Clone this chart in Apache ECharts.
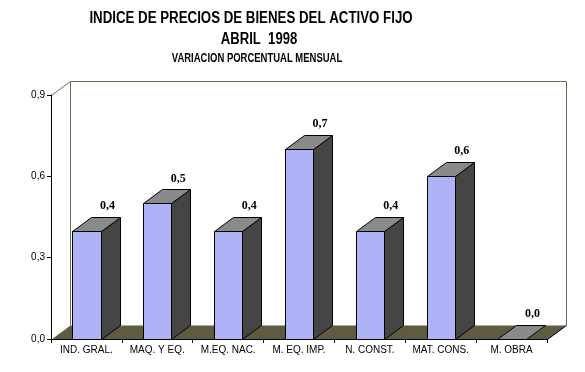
<!DOCTYPE html>
<html><head><meta charset="utf-8">
<script src="https://cdn.jsdelivr.net/npm/echarts@6/dist/echarts.min.js"></script>
<style>html,body{margin:0;padding:0;background:#fff}#c{width:585px;height:372px}</style>
</head><body><div id="c"></div>
<script>
const categories = ['IND. GRAL.', 'MAQ. Y EQ.', 'M.EQ. NAC.', 'M. EQ. IMP.', 'N. CONST.', 'MAT. CONS.', 'M. OBRA'];
const values = [0.4, 0.5, 0.4, 0.7, 0.4, 0.6, 0.0];
const valueLabels = ['0,4', '0,5', '0,4', '0,7', '0,4', '0,6', '0,0'];
const yTickLabels = ['0,0', '0,3', '0,6', '0,9'];
const titleLines = ['INDICE DE PRECIOS DE BIENES DEL ACTIVO FIJO', 'ABRIL  1998', 'VARIACION PORCENTUAL MENSUAL'];

const frontFill = '#aeb2f6';
const sideFill = '#454545';
const topFill = '#8a8a8a';
const DX = 19, DY = -14;
const px = v => Math.round(v) + 0.5;

function renderFrame(params, api) {
  const cs = params.coordSys;
  const x0 = px(cs.x), x1 = px(cs.x + cs.width), y0 = px(cs.y + cs.height), yt = px(cs.y);
  const olive = '#6b6b47';
  return { type: 'group', children: [
    { type: 'polygon', shape: { points: [[x0, y0], [x1, y0], [x1 + DX, y0 + DY], [x0 + DX, y0 + DY]] }, style: { fill: '#5f5b40', stroke: null } },
    { type: 'polyline', shape: { points: [[x0 + DX, y0 + DY], [x0 + DX, yt + DY], [x1 + DX, yt + DY], [x1 + DX, y0 + DY]] }, style: { stroke: olive, lineWidth: 1, fill: null } },
    { type: 'line', shape: { x1: x0, y1: yt, x2: x0 + DX, y2: yt + DY }, style: { stroke: olive, lineWidth: 1 } },
    { type: 'line', shape: { x1: x1, y1: y0, x2: x1 + DX, y2: y0 + DY }, style: { stroke: '#000', lineWidth: 1 } }
  ] };
}

function renderBar(params, api) {
  const i = api.value(0), v = api.value(1);
  const base = api.coord([i, 0]), top = api.coord([i, v]);
  const w = api.size([1, 0])[0] * 0.4;
  const xl = px(base[0] - w / 2), xr = px(base[0] + w / 2);
  const yb = px(base[1]), yt = px(top[1]);
  const st = { stroke: '#000', lineWidth: 1 };
  const children = [];
  if (yb - yt > 0.5) {
    children.push({ type: 'polygon', shape: { points: [[xl, yt], [xr, yt], [xr, yb], [xl, yb]] }, style: Object.assign({ fill: frontFill }, st) });
    children.push({ type: 'polygon', shape: { points: [[xr, yt], [xr + DX, yt + DY], [xr + DX, yb + DY], [xr, yb]] }, style: Object.assign({ fill: sideFill }, st) });
  }
  children.push({ type: 'polygon', shape: { points: [[xl, yt], [xl + DX, yt + DY], [xr + DX, yt + DY], [xr, yt]] }, style: Object.assign({ fill: topFill }, st) });
  children.push({ type: 'text', style: { text: valueLabels[params.dataIndex], x: base[0] + 21, y: top[1] - 25, align: 'center', verticalAlign: 'middle', font: 'bold 12px "Liberation Serif", serif', fill: '#000' } });
  return { type: 'group', children };
}

const chart = echarts.init(document.getElementById('c'), null, { renderer: 'canvas' });
chart.setOption({
  animation: false,
  backgroundColor: '#fff',
  graphic: [
    { type: 'text', x: 251, y: 19, scaleX: 0.83, style: { text: titleLines[0], x: 0, y: 0, align: 'center', verticalAlign: 'middle', font: 'bold 16px "Liberation Sans", Arial, sans-serif', fill: '#000' } },
    { type: 'text', x: 259, y: 40, scaleX: 0.82, style: { text: titleLines[1], x: 0, y: 0, align: 'center', verticalAlign: 'middle', font: 'bold 16px "Liberation Sans", Arial, sans-serif', fill: '#000' } },
    { type: 'text', x: 257, y: 59, scaleX: 0.79, style: { text: titleLines[2], x: 0, y: 0, align: 'center', verticalAlign: 'middle', font: 'bold 12px "Liberation Sans", Arial, sans-serif', fill: '#000' } }
  ],
  grid: { left: 51, right: 38, top: 95, bottom: 33, containLabel: false },
  xAxis: {
    type: 'category', data: categories, z: 10,
    axisLine: { lineStyle: { color: '#000', width: 1 } },
    axisTick: { show: true, length: 4, lineStyle: { color: '#000' } },
    axisLabel: { color: '#000', fontSize: 10, fontFamily: '"Liberation Sans", Arial, sans-serif', margin: 6, interval: 0 },
    splitLine: { show: false }
  },
  yAxis: {
    type: 'value', min: 0, max: 0.9, interval: 0.3, z: 10,
    axisLine: { show: true, lineStyle: { color: '#000', width: 1 } },
    axisTick: { show: true, length: 4, lineStyle: { color: '#000' } },
    axisLabel: { color: '#000', fontSize: 10, fontFamily: '"Liberation Sans", Arial, sans-serif', margin: 6, formatter: v => yTickLabels[Math.round(v / 0.3)] },
    splitLine: { show: false }
  },
  series: [
    { type: 'custom', renderItem: renderFrame, data: [[0, 0]], z: 1, silent: true, clip: false },
    { type: 'custom', renderItem: renderBar, data: values.map((v, i) => [i, v]), encode: { x: 0, y: 1 }, z: 2, clip: false }
  ]
});
</script></body></html>
